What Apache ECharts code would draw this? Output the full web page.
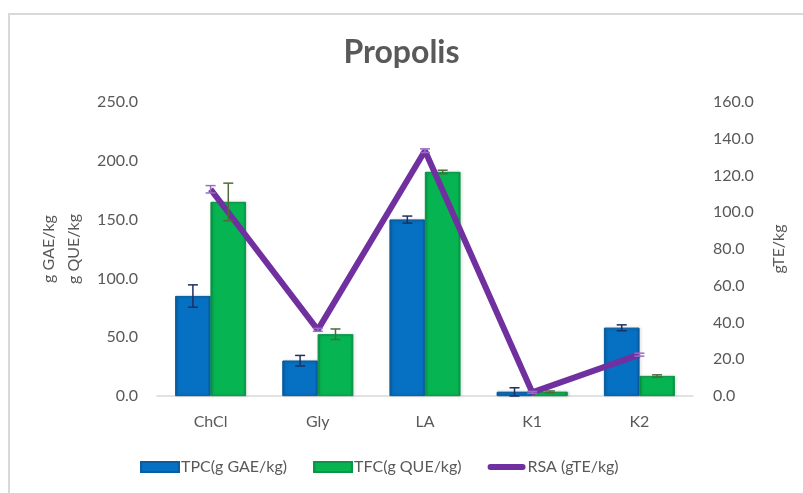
<!DOCTYPE html>
<html>
<head>
<meta charset="utf-8">
<title>Propolis</title>
<script src="https://cdn.jsdelivr.net/npm/echarts@6/dist/echarts.min.js"></script>
<style>
  html, body { margin: 0; padding: 0; background: #fff; }
  #chart { width: 803px; height: 493px; }
</style>
</head>
<body>
<div id="chart"></div>
<script>
// data
const categories = ['ChCl', 'Gly', 'LA', 'K1', 'K2'];
const tpcValues = [85.0, 30.0, 150.0, 3.5, 58.0];   // g GAE/kg
const tpcErrors = [9.5, 4.5, 3.0, 3.5, 2.5];
const tfcValues = [165.0, 52.5, 190.5, 3.5, 17.0];   // g QUE/kg
const tfcErrors = [16.0, 4.5, 1.5, 0.8, 1.0];
const rsaValues = [112.5, 36.0, 133.5, 2.0, 22.5];   // gTE/kg
const rsaErrors = [2.0, 0.8, 1.0, 0.5, 0.8];

const seriesNames = ['TPC(g GAE/kg)', 'TFC(g QUE/kg)', 'RSA (gTE/kg)'];
const barCategoryGap = 0.34; // share of band left empty

const txt = '#595959';
const font = 'Lato, "Open Sans", sans-serif';

const chartInstance = echarts.init(document.getElementById('chart'));

// error bar drawn through the axes; side = -1 left bar, 1 right bar, 0 centered
function errorBars(values, errors, side, color, yIdx) {
  return {
    type: 'custom',
    yAxisIndex: yIdx,
    z: 5,
    silent: true,
    data: values.map((v, i) => [i, v - errors[i], v + errors[i]]),
    renderItem: function (params, api) {
      const band = api.size([1, 0])[0];
      const bw = band * (1 - barCategoryGap) / 2;
      const lo = api.coord([api.value(0), api.value(1)]);
      const hi = api.coord([api.value(0), api.value(2)]);
      const x = lo[0] + side * bw / 2;
      const cap = 5;
      const style = { stroke: color, lineWidth: 1.5 };
      return {
        type: 'group',
        children: [
          { type: 'line', shape: { x1: x, y1: lo[1], x2: x, y2: hi[1] }, style: style },
          { type: 'line', shape: { x1: x - cap, y1: lo[1], x2: x + cap, y2: lo[1] }, style: style },
          { type: 'line', shape: { x1: x - cap, y1: hi[1], x2: x + cap, y2: hi[1] }, style: style }
        ]
      };
    }
  };
}

function barColor(main, dark) {
  return new echarts.graphic.LinearGradient(0, 0, 1, 0, [
    { offset: 0, color: dark },
    { offset: 0.08, color: main },
    { offset: 0.92, color: main },
    { offset: 1, color: dark }
  ]);
}

const option = {
  backgroundColor: '#fff',
  textStyle: { fontFamily: font },
  title: {
    text: 'Propolis',
    left: 'center',
    top: 32,
    textStyle: { fontSize: 32, fontWeight: 'bold', color: txt, fontFamily: font }
  },
  graphic: [
    { type: 'line', shape: { x1: 8, y1: 14, x2: 803, y2: 14 }, style: { stroke: '#d9d9d9', lineWidth: 2 } },
    { type: 'line', shape: { x1: 9, y1: 14, x2: 9, y2: 493 }, style: { stroke: '#d9d9d9', lineWidth: 2 } }
  ],
  legend: {
    bottom: 13,
    left: 135,
    itemWidth: 38,
    itemHeight: 10,
    itemGap: 26,
    symbolKeepAspect: true,
    textStyle: { fontSize: 16, color: txt, fontFamily: font, padding: [0, 0, 0, -3] },
    data: [
      { name: seriesNames[0], icon: 'rect' },
      { name: seriesNames[1], icon: 'rect' },
      { name: seriesNames[2], icon: 'path://M3,2 L35,2 A3,3 0 0 1 35,8 L3,8 A3,3 0 0 1 3,2 Z' }
    ]
  },
  grid: { left: 157, right: 110, top: 102, bottom: 97, containLabel: false },
  xAxis: {
    type: 'category',
    data: categories,
    axisLine: { lineStyle: { color: '#d9d9d9', width: 1.5 } },
    axisTick: { show: false },
    axisLabel: { fontSize: 16, color: txt, margin: 18 }
  },
  yAxis: [
    {
      type: 'value',
      min: 0, max: 250, interval: 50,
      name: 'g GAE/kg\ng QUE/kg',
      nameLocation: 'middle',
      nameGap: 62,
      nameTextStyle: { fontSize: 16, color: txt, lineHeight: 25 },
      axisLine: { show: false },
      axisTick: { show: false },
      splitLine: { show: false },
      axisLabel: { fontSize: 16, color: txt, margin: 19, formatter: v => v.toFixed(1) }
    },
    {
      type: 'value',
      min: 0, max: 160, interval: 20,
      name: 'gTE/kg',
      nameLocation: 'middle',
      nameGap: 78,
      nameRotate: 90,
      nameTextStyle: { fontSize: 16, color: txt, padding: [0, 0, 24, 0] },
      axisLine: { show: false },
      axisTick: { show: false },
      splitLine: { show: false },
      axisLabel: { fontSize: 16, color: txt, margin: 20, formatter: v => v.toFixed(1) }
    }
  ],
  series: [
    {
      name: seriesNames[0],
      type: 'bar',
      yAxisIndex: 0,
      barGap: '0%',
      barCategoryGap: (barCategoryGap * 100) + '%',
      data: tpcValues,
      itemStyle: {
        color: barColor('#0670c2', '#0b5a9a'),
        borderColor: '#0a5d9e',
        borderWidth: 0.8,
        shadowColor: 'rgba(0,0,0,0.25)',
        shadowBlur: 3,
        shadowOffsetX: 1
      }
    },
    {
      name: seriesNames[1],
      type: 'bar',
      yAxisIndex: 0,
      barGap: '0%',
      barCategoryGap: (barCategoryGap * 100) + '%',
      data: tfcValues,
      itemStyle: {
        color: barColor('#06b552', '#0a8f43'),
        borderColor: '#0b9446',
        borderWidth: 0.8,
        shadowColor: 'rgba(0,0,0,0.25)',
        shadowBlur: 3,
        shadowOffsetX: 1
      }
    },
    {
      name: seriesNames[2],
      type: 'line',
      yAxisIndex: 1,
      z: 4,
      symbol: 'none',
      data: rsaValues,
      itemStyle: { color: '#7030a0' },
      lineStyle: { color: '#7030a0', width: 6 }
    },
    errorBars(tpcValues, tpcErrors, -1, '#1f3060', 0),
    errorBars(tfcValues, tfcErrors, 1, '#4f6b3c', 0),
    errorBars(rsaValues, rsaErrors, 0, '#9b6cc4', 1)
  ]
};

chartInstance.setOption(option);
</script>
</body>
</html>
